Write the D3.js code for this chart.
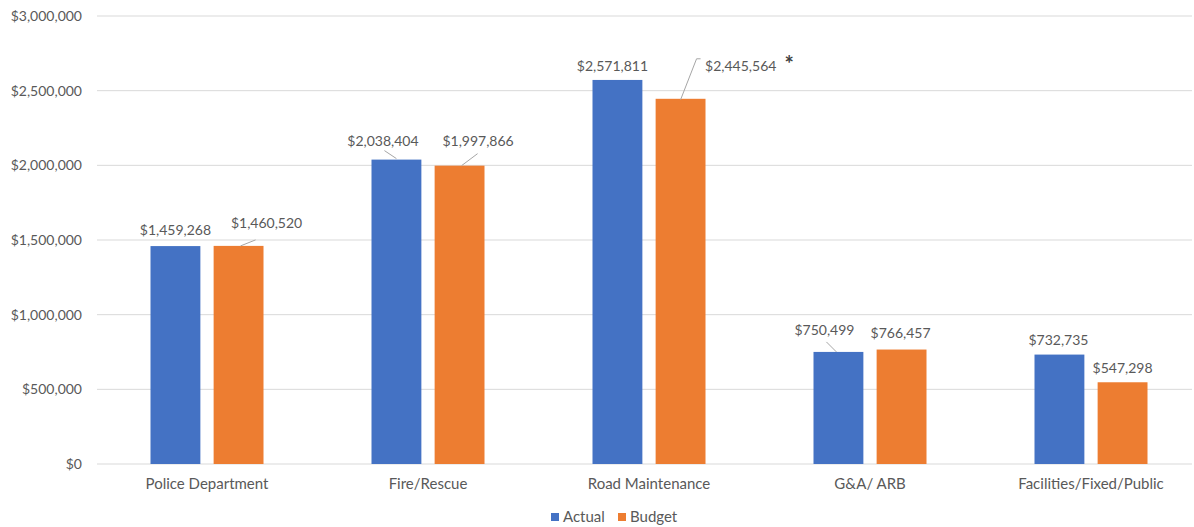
<!DOCTYPE html>
<html><head><meta charset="utf-8">
<script src="https://cdn.jsdelivr.net/npm/d3@7"></script>
<style>body{margin:0;background:#fff;} text{font-family:Lato, "Open Sans", sans-serif;fill:#595959;}</style>
</head><body><svg id="c" width="1194" height="527"></svg>
<script>
const categories = ["Police Department","Fire/Rescue","Road Maintenance","G&A/ ARB","Facilities/Fixed/Public"];
const seriesNames = ["Actual","Budget"];
const actual = [1459268, 2038404, 2571811, 750499, 732735];
const budget = [1460520, 1997866, 2445564, 766457, 547298];
const yTicks = [0, 500000, 1000000, 1500000, 2000000, 2500000, 3000000];
const colors = ["#4472C4", "#ED7D31"];
// label placement offsets (dx from bar centre, dy baseline from bar top)
const labelLayout = {
  Actual: [{dx:0,dy:-11},{dx:-13.5,dy:-14},{dx:-5,dy:-9},{dx:-14,dy:-17},{dx:-1,dy:-10}],
  Budget: [{dx:28,dy:-18},{dx:18.5,dy:-20},{dx:24.5,dy:-28,left:true},{dx:-1,dy:-11.5},{dx:0,dy:-9}]
};
const leaders = {
  Actual: [null,[[0,-1],[-12,-9]],null,[[-2,0],[-12,-10]],null],
  Budget: [[[2,0],[17,-6]],[[2,0],[18,-12]],[[0,1],[16,-40],[20,-40]],null,null]
};

const svg = d3.select("#c");
const pLeft = 96.5, pRight = 1201.5, pTop = 16, pBottom = 464;
const x0 = d3.scaleBand().domain(categories).range([pLeft, pRight]);
const x1 = d3.scaleBand().domain(seriesNames).range([-56.5, 56.5]).paddingInner(0.21);
const y = d3.scaleLinear().domain([0, 3000000]).range([pBottom, pTop]);
const fmt = d3.format("$,.0f");

// gridlines
svg.append("g").selectAll("line").data(yTicks).join("line")
  .attr("x1", 97).attr("x2", 1192)
  .attr("y1", d => y(d)).attr("y2", d => y(d))
  .attr("stroke", "#d9d9d9").attr("stroke-width", 1);

// y axis labels
const yAxis = d3.axisLeft(y).tickValues(yTicks).tickFormat(fmt).tickSize(0).tickPadding(0);
const ya = svg.append("g").attr("transform", "translate(82,0)").call(yAxis);
ya.select(".domain").remove();
ya.selectAll("text").attr("font-size", 14).attr("fill", "#595959").style("font-family","Lato, sans-serif");

// x axis labels
const xAxis = d3.axisBottom(x0).tickSize(0).tickPadding(14);
const xa = svg.append("g").attr("transform", `translate(0,${pBottom})`).call(xAxis);
xa.select(".domain").remove();
xa.selectAll("text").attr("font-size", 15).attr("fill", "#595959").style("font-family","Lato, sans-serif");

const data = [actual, budget];
seriesNames.forEach((s, si) => {
  const vals = data[si];
  const g = svg.append("g");
  g.selectAll("rect").data(vals).join("rect")
    .attr("x", (d, i) => x0(categories[i]) + x0.bandwidth()/2 + x1(s))
    .attr("width", x1.bandwidth())
    .attr("y", d => y(d)).attr("height", d => pBottom - y(d))
    .attr("fill", colors[si]);
  vals.forEach((v, i) => {
    const cx = x0(categories[i]) + x0.bandwidth()/2 + x1(s) + x1.bandwidth()/2;
    const ty = y(v);
    const L = labelLayout[s][i];
    const ld = leaders[s][i];
    if (ld) {
      svg.append("path")
        .attr("d", d3.line()(ld.map(p => [cx + p[0], ty + p[1]])))
        .attr("fill", "none").attr("stroke", "#a6a6a6").attr("stroke-width", 1);
    }
    svg.append("text")
      .attr("x", cx + L.dx).attr("y", ty + L.dy)
      .attr("text-anchor", L.left ? "start" : "middle")
      .attr("font-size", 14).text(fmt(v));
  });
});
// asterisk
const ri = 2;
const bcx = x0(categories[ri]) + x0.bandwidth()/2 + x1("Budget") + x1.bandwidth()/2;
svg.append("text").attr("x", bcx + 104).attr("y", y(budget[ri]) - 27)
  .attr("font-size", 22).attr("font-weight", "bold").style("fill","#404040").text("*");

// legend
const lg = svg.append("g").attr("transform", "translate(551,513)");
seriesNames.forEach((s, i) => {
  const gx = i * 67;
  lg.append("rect").attr("x", gx).attr("y", 0).attr("width", 8).attr("height", 8).attr("fill", colors[i]);
  lg.append("text").attr("x", gx + 12).attr("y", 9).attr("font-size", 15).text(s);
});
</script></body></html>
